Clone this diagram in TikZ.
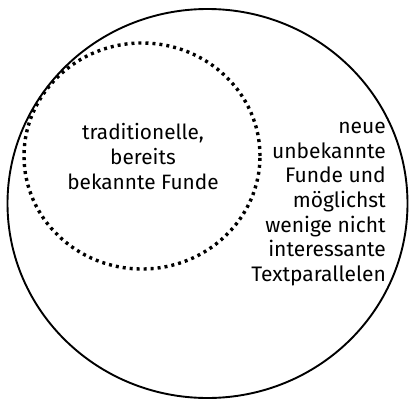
\documentclass[tikz,border=0pt]{standalone}
\usepackage{fontspec}
\setmainfont{Fira Sans}
\begin{document}
\begin{tikzpicture}[x=1pt,y=1pt]
    \useasboundingbox (0,0) rectangle (409,400);
    % Outer set
    \draw[line width=1.9pt] (207.5,196.5) ellipse [x radius=200, y radius=194.5];
    % Known finds
    \draw[line width=3.4pt, dash pattern=on 3pt off 4pt] (142,244) ellipse [x radius=118, y radius=113];
    
    % Labels
    \node[align=center, inner sep=0pt, font=\fontsize{20.8}{25}\selectfont] (alt) at (143,243)
        {traditionelle,\\bereits\\bekannte Funde};
    \node[align=right, inner sep=0pt, anchor=east, font=\fontsize{21}{24.7}\selectfont] (neu) at (386,196)
        {neue\\unbekannte\\Funde und\\möglichst\\wenige nicht\\interessante\\Textparallelen};
\end{tikzpicture}
\end{document}
